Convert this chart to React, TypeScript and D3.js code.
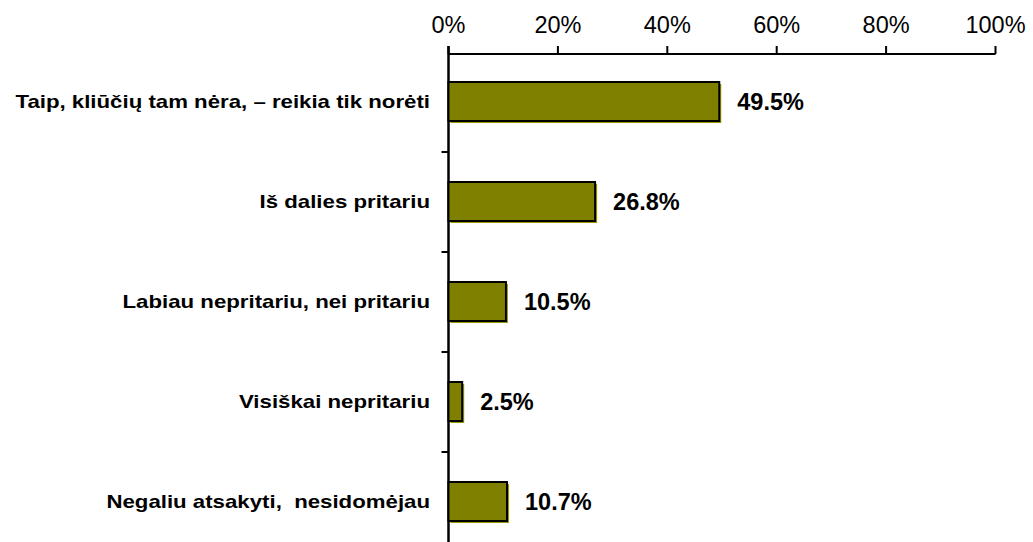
import React from "react";
import * as d3 from "d3";

const categories = [
  "Taip, kliūčių tam nėra, – reikia tik norėti",
  "Iš dalies pritariu",
  "Labiau nepritariu, nei pritariu",
  "Visiškai nepritariu",
  "Negaliu atsakyti,  nesidomėjau",
];
const values = [49.5, 26.8, 10.5, 2.5, 10.7];
const xTicks = [0, 20, 40, 60, 80, 100];

const W = 1033;
const H = 542;

export default function App() {
  const x = d3.scaleLinear().domain([0, 100]).range([448.5, 995.5]);
  const y = d3
    .scaleBand<string>()
    .domain(categories)
    .range([52, 552])
    .paddingInner(0.6)
    .paddingOuter(0.3);
  const step = y.step();
  const font = "Arial, 'Liberation Sans', Helvetica, sans-serif";

  return (
    <svg
      width={W}
      height={H}
      style={{ position: "absolute", left: 0, top: 0, background: "#fff" }}
      fontFamily={font}
    >
      {/* x axis */}
      <line x1={x(0)} x2={x(100)} y1={54} y2={54} stroke="#000" strokeWidth={2} />
      {xTicks.map((t) => (
        <g key={t}>
          <line x1={x(t)} x2={x(t)} y1={46} y2={54} stroke="#000" strokeWidth={2} />
          <text x={x(t)} y={33} textAnchor="middle" fontSize={23.5} fill="#000">
            {t}%
          </text>
        </g>
      ))}
      {/* y axis */}
      <line x1={x(0)} x2={x(0)} y1={46} y2={H} stroke="#000" strokeWidth={2.5} />
      {categories.map((c, i) =>
        i < categories.length - 1 ? (
          <line
            key={"t" + i}
            x1={x(0) - 7}
            x2={x(0)}
            y1={(y(c) as number) + y.bandwidth() + (step - y.bandwidth()) / 2}
            y2={(y(c) as number) + y.bandwidth() + (step - y.bandwidth()) / 2}
            stroke="#000"
            strokeWidth={2}
          />
        ) : null
      )}
      {/* bars */}
      {categories.map((c, i) => {
        const y0 = y(c) as number;
        const w = x(values[i]) - x(0);
        const bh = y.bandwidth() - 1;
        return (
          <g key={c}>
            <rect x={x(0) + 2} y={y0 + 2} width={w} height={bh} fill="#999900" />
            <rect
              x={x(0)}
              y={y0}
              width={w}
              height={bh}
              fill="#808000"
              stroke="#000"
              strokeWidth={2}
            />
            <text
              x={x(values[i]) + 18}
              y={y0 + bh / 2}
              dy="0.36em"
              fontSize={23.5}
              fontWeight="bold"
              fill="#000"
            >
              {values[i].toFixed(1)}%
            </text>
            <text
              transform={`translate(430,${y0 + bh / 2}) scale(1.235,1)`}
              dy="0.36em"
              textAnchor="end"
              fontSize={18}
              fontWeight="bold"
              fill="#000"
              style={{ whiteSpace: "pre" }}
            >
              {c}
            </text>
          </g>
        );
      })}
    </svg>
  );
}
